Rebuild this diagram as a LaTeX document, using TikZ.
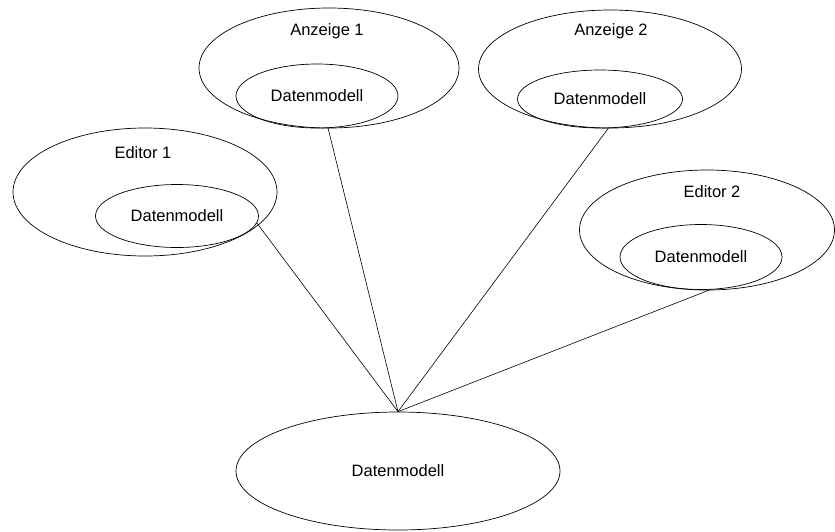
\documentclass[tikz,border=0pt]{standalone}
\usepackage{fontspec}
\setmainfont{Liberation Sans}
\usetikzlibrary{shapes.geometric}
\tikzset{
  every picture/.style={line width=0.7pt},
  blob/.style={draw, ellipse, inner sep=0pt},
  txt/.style={font=\fontsize{16.5}{19}\selectfont},
  link/.style={draw, line width=0.6pt},
}

\begin{document}
\begin{tikzpicture}[x=1pt, y=-1pt]
  \useasboundingbox (0,0) rectangle (835,531);
  % Anzeigen
  \node[blob, minimum width=260pt, minimum height=120pt] (anz1) at (329,68) {};
  \node[txt] (anz1 name) at (327,31) {Anzeige 1};
  \node[blob, txt, minimum width=162pt, minimum height=64pt] (anz1 dm) at (317,96) {Datenmodell};
  \node[blob, minimum width=263pt, minimum height=118pt] (anz2) at (610,69) {};
  \node[txt] (anz2 name) at (611,31) {Anzeige 2};
  \node[blob, txt, minimum width=165pt, minimum height=58pt] (anz2 dm) at (600,99) {Datenmodell};
  % Editoren
  \node[blob, minimum width=264pt, minimum height=128pt] (ed1) at (145,192) {};
  \node[txt] (ed1 name) at (143,153) {Editor 1};
  \node[blob, txt, minimum width=163pt, minimum height=63pt] (ed1 dm) at (177,216) {Datenmodell};
  \node[blob, minimum width=255pt, minimum height=120pt] (ed2) at (707,230) {};
  \node[txt] (ed2 name) at (712,192) {Editor 2};
  \node[blob, txt, minimum width=162pt, minimum height=65pt] (ed2 dm) at (701,257) {Datenmodell};
  % gemeinsames Modell
  \node[blob, txt, minimum width=324pt, minimum height=118pt] (model) at (398,471) {Datenmodell};
  \draw[link] (ed1 dm.-5) -- (model.north);
  \draw[link] (anz1 dm.-71) -- (model.north);
  \draw[link] (anz2 dm.-74) -- (model.north);
  \draw[link] (ed2 dm.-74) -- (model.north);
\end{tikzpicture}
\end{document}
